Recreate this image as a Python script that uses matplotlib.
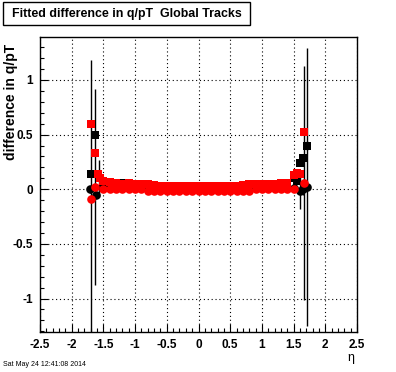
import numpy as np
import matplotlib.pyplot as plt
from matplotlib.ticker import MultipleLocator
from matplotlib.patches import Rectangle

plt.rcParams['font.family'] = ['Liberation Sans', 'DejaVu Sans']

# eta bin centres in the central region
eta_mid = [-1.5, -1.4, -1.3, -1.2, -1.1, -1.0, -0.9, -0.8, -0.7, -0.6, -0.5,
           -0.4, -0.3, -0.2, -0.1, 0.0, 0.1, 0.2, 0.3, 0.4, 0.5, 0.6, 0.7,
           0.8, 0.9, 1.0, 1.1, 1.2, 1.3, 1.4, 1.5]

# black squares
bsq_eta = [-1.70, -1.63, -1.575] + eta_mid + [1.55, 1.60, 1.65, 1.71]
bsq_val = [0.14, 0.50, 0.10,
           0.07, 0.06, 0.055, 0.06, 0.05, 0.045, 0.04, 0.04, 0.035, 0.03, 0.03,
           0.03, 0.03, 0.03, 0.03, 0.03, 0.03, 0.03, 0.03, 0.03, 0.03, 0.03,
           0.035, 0.04, 0.04, 0.045, 0.045, 0.05, 0.05, 0.055, 0.10,
           0.08, 0.24, 0.29, 0.40]
bsq_err = [0.02, 0.03, 0.17,
           0.02, 0.01, 0.01, 0.01, 0.01, 0.01, 0.01, 0.01, 0.01, 0.01, 0.01,
           0.01, 0.01, 0.01, 0.01, 0.01, 0.01, 0.01, 0.01, 0.01, 0.01, 0.01,
           0.01, 0.01, 0.01, 0.01, 0.01, 0.01, 0.01, 0.01, 0.02,
           0.03, 0.03, 0.03, 0.04]

# red squares
rsq_eta = [-1.69, -1.63, -1.59, -1.55] + eta_mid + [1.55, 1.60, 1.66]
rsq_val = [0.60, 0.335, 0.14, 0.10,
           0.08, 0.065, 0.055, 0.05, 0.055, 0.05, 0.05, 0.045, 0.035, 0.033,
           0.032, 0.033, 0.031, 0.032, 0.033, 0.031, 0.032, 0.033, 0.032,
           0.033, 0.034, 0.033, 0.035, 0.045, 0.045, 0.047, 0.05, 0.05,
           0.055, 0.06, 0.13,
           0.15, 0.14, 0.527]
rsq_err = [0.03, 0.03, 0.02, 0.02,
           0.01, 0.01, 0.01, 0.01, 0.01, 0.01, 0.01, 0.01, 0.01, 0.01, 0.01,
           0.01, 0.01, 0.01, 0.01, 0.01, 0.01, 0.01, 0.01, 0.01, 0.01, 0.01,
           0.01, 0.01, 0.01, 0.01, 0.01, 0.01, 0.01, 0.01, 0.02,
           0.02, 0.02, 0.03]

# black circles
bci_eta = [-1.71, -1.61] + eta_mid + [1.60, 1.65, 1.715]
bci_val = [0.0, -0.05,
           0.01, 0.01, 0.01, 0.01, 0.01, 0.01, 0.01, 0.01, 0.01, 0.01, 0.01,
           0.01, 0.01, 0.01, 0.01, 0.01, 0.01, 0.01, 0.01, 0.01, 0.01, 0.01,
           0.01, 0.01, 0.01, 0.01, 0.01, 0.01, 0.01, 0.01, 0.01,
           -0.02, 0.0, 0.02]
bci_err = [0.03, 0.03,
           0.01, 0.01, 0.01, 0.01, 0.01, 0.01, 0.01, 0.01, 0.01, 0.01, 0.01,
           0.01, 0.01, 0.01, 0.01, 0.01, 0.01, 0.01, 0.01, 0.01, 0.01, 0.01,
           0.01, 0.01, 0.01, 0.01, 0.01, 0.01, 0.01, 0.01, 0.01,
           0.16, 0.05, 1.27]

# red circles
rci_eta = [-1.69, -1.63] + eta_mid + [1.67]
rci_val = [-0.09, 0.02,
           0.0, 0.0, 0.0, 0.0, 0.0, 0.0, 0.0, -0.015, -0.015, -0.015, -0.015,
           -0.015, -0.015, -0.015, -0.015, -0.015, -0.015, -0.015, -0.015,
           -0.015, -0.015, -0.015, -0.015, -0.015, 0.0, 0.0, 0.0, 0.0, 0.0,
           0.0, 0.0,
           0.06]
rci_err = [1.27, 0.90,
           0.01, 0.01, 0.01, 0.01, 0.01, 0.01, 0.01, 0.01, 0.01, 0.01, 0.01,
           0.01, 0.01, 0.01, 0.01, 0.01, 0.01, 0.01, 0.01, 0.01, 0.01, 0.01,
           0.01, 0.01, 0.01, 0.01, 0.01, 0.01, 0.01, 0.01, 0.01,
           1.07]

fig = plt.figure(figsize=(3.96, 3.72), dpi=100)
ax = fig.add_axes([40/396, 40/372, 317/396, 295/372])

series = [
    (bsq_eta, bsq_val, bsq_err, 'black', 's', 2),
    (bci_eta, bci_val, bci_err, 'black', 'o', 3),
    (rsq_eta, rsq_val, rsq_err, 'red', 's', 4),
    (rci_eta, rci_val, rci_err, 'red', 'o', 5),
]
for eta, val, err, col, mk, z in series:
    ax.errorbar(eta, val, yerr=err, fmt='none', ecolor='black',
                elinewidth=1.0, capsize=0, zorder=1)
    ax.plot(eta, val, linestyle='none', marker=mk, color=col,
            markersize=6.2, markeredgewidth=0, zorder=z)

ax.set_xlim(-2.5, 2.5)
ax.set_ylim(-1.306, 1.393)

ax.xaxis.set_major_locator(MultipleLocator(0.5))
ax.xaxis.set_minor_locator(MultipleLocator(0.1))
ax.yaxis.set_major_locator(MultipleLocator(0.5))
ax.yaxis.set_minor_locator(MultipleLocator(0.1))
ax.tick_params(which='both', direction='in', top=False, right=False,
               width=0.8, color='black')
ax.tick_params(which='major', length=6, labelsize=8.5, pad=5)
ax.tick_params(which='minor', length=3)
for lab in ax.get_xticklabels() + ax.get_yticklabels():
    lab.set_fontweight('bold')
ax.xaxis.set_major_formatter(plt.FuncFormatter(lambda v, p: '%g' % v))
ax.yaxis.set_major_formatter(plt.FuncFormatter(lambda v, p: '%g' % v))

ax.grid(True, which='major', color='black', linestyle=(0, (1, 2.5)),
        linewidth=0.8)
ax.set_axisbelow(False)
for sp in ax.spines.values():
    sp.set_linewidth(1.0)

fig.text(11/396, 1 - 44/372, 'difference in q/pT', rotation=90,
         ha='center', va='top', fontsize=10, fontweight='bold')
fig.text(351/396, 1 - 358/372, 'η', ha='center', va='center', fontsize=9)

fig.patches.append(Rectangle((3/396, 1 - 25/372), 247/396, 23/372,
                             transform=fig.transFigure, facecolor='white',
                             edgecolor='black', linewidth=1.0))
fig.text(12/396, 1 - 13.5/372, 'Fitted difference in q/pT  Global Tracks',
         ha='left', va='center', fontsize=8.9, fontweight='bold')
fig.text(3/396, 1 - 364/372, 'Sat May 24 12:41:08 2014',
         ha='left', va='center', fontsize=5)

fig.savefig('out.png', dpi=100)
